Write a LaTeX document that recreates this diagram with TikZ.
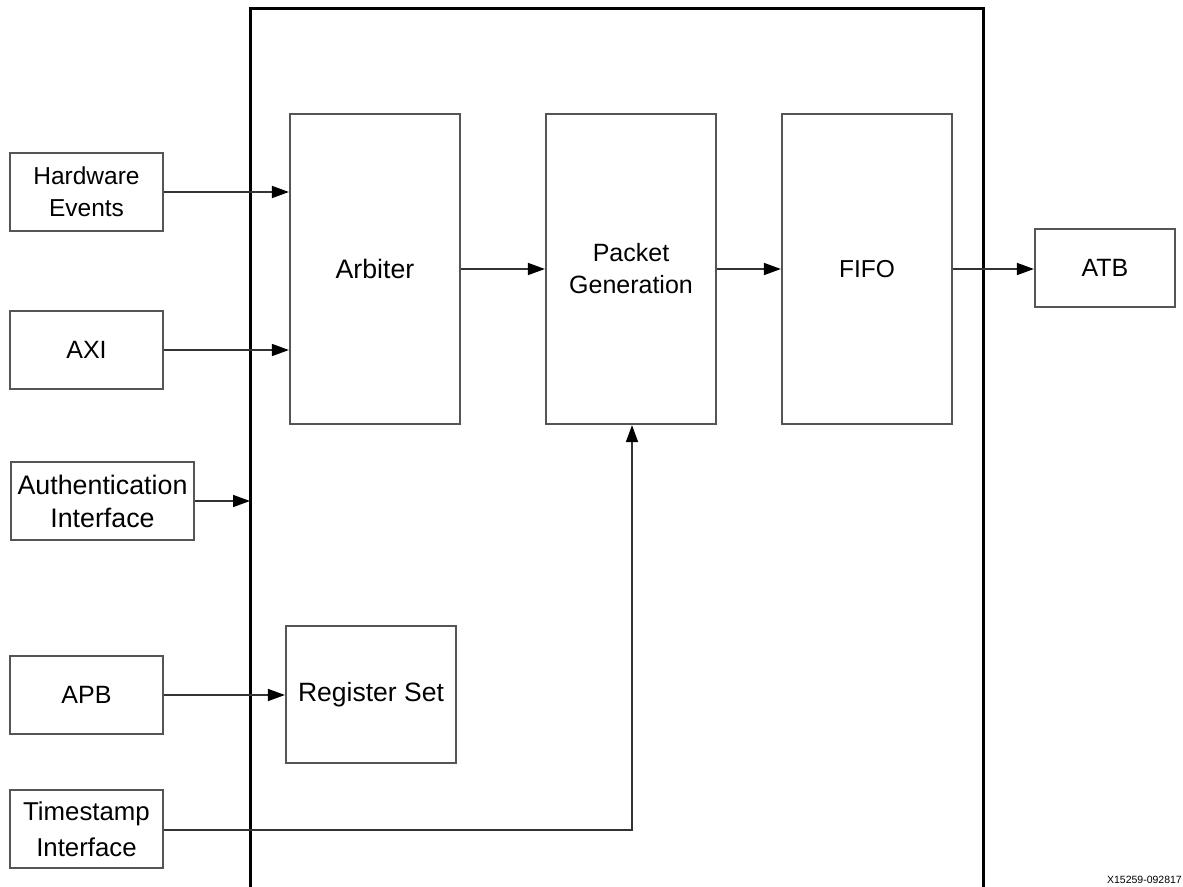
\documentclass[tikz,border=0pt]{standalone}
\usepackage{fontspec}
\setmainfont{Liberation Sans}
\usetikzlibrary{arrows.meta}
\definecolor{boxgray}{HTML}{555555}
\definecolor{linegray}{HTML}{333333}
\begin{document}
\begin{tikzpicture}[x=1pt,y=-1pt,
  blk/.style={draw=boxgray,line width=2.2pt,fill=white,inner sep=0pt,align=center,
    font=\fontsize{24}{32}\selectfont},
  fs/.style={font=\fontsize{#1}{32}\selectfont},
  conn/.style={draw=linegray,line width=1.6pt,
    -{Triangle[length=17pt,width=12pt,color=black]}}]
\useasboundingbox (0,0) rectangle (1183,886);
% main enclosure (open at bottom)
\draw[line width=3pt,black] (250,900) -- (250,8) -- (983,8) -- (983,900);
% inner blocks
\node[blk,fs=26.7,minimum width=170pt,minimum height=310pt] (arb) at (375,269) {Arbiter};
\node[blk,fs=25,minimum width=170pt,minimum height=310pt] (pg) at (631,269) {Packet\\Generation};
\node[blk,fs=24.5,minimum width=170pt,minimum height=310pt] (fifo) at (867,269) {FIFO};
\node[blk,fs=26.5,minimum width=170pt,minimum height=137pt] (reg) at (371,694.5) {Register Set};
\node[blk,fs=25,minimum width=140pt,minimum height=78pt] (atb) at (1105,268) {ATB};
% left inputs
\node[blk,fs=24.5,minimum width=153pt,minimum height=78pt] (hw) at (86.5,192) {Hardware\\Events};
\node[blk,fs=25,minimum width=153pt,minimum height=78pt] (axi) at (86.5,350) {AXI};
\node[blk,font=\fontsize{26.8}{33}\selectfont,minimum width=183pt,minimum height=78pt] (auth) at (102.5,501) {Authentication\\Interface};
\node[blk,fs=25,minimum width=153pt,minimum height=78pt] (apb) at (86.5,695) {APB};
\node[blk,font=\fontsize{25.8}{36}\selectfont,minimum width=153pt,minimum height=78pt] (ts) at (86.5,829) {Timestamp\\Interface};
\coordinate (encl) at (250,501);
\coordinate (bend) at (632,830);
% connectors
\draw[conn] (hw.east) -- (hw.east -| arb.west);
\draw[conn] (axi.east) -- (axi.east -| arb.west);
\draw[conn] (auth.east) -- (encl);
\draw[conn] (apb.east) -- (apb.east -| reg.west);
\draw[conn] (arb.east) -- (pg.west);
\draw[conn] (pg.east) -- (fifo.west);
\draw[conn] (fifo.east) -- (fifo.east -| atb.west);
\draw[conn] (ts.east |- bend) -- (bend) -- (bend |- pg.south);
% figure id
\node[anchor=base east,inner sep=0pt,font=\fontsize{10.5}{12}\selectfont] (fid) at (1182,883) {X15259-092817};
\end{tikzpicture}
\end{document}
